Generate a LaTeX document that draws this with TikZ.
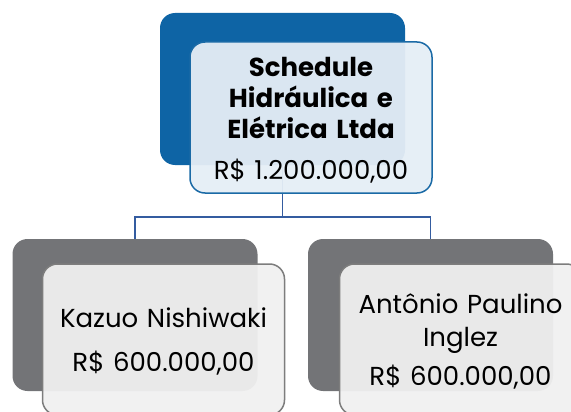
\documentclass[tikz,border=0pt]{standalone}
\usepackage{fontspec}
\setmainfont{Poppins}
\definecolor{schedblue}{RGB}{14,100,165}
\definecolor{cardblue}{RGB}{229,238,246}
\definecolor{edgeblue}{RGB}{26,106,166}
\definecolor{linkblue}{RGB}{52,92,160}
\definecolor{backgray}{RGB}{115,116,119}
\definecolor{cardgray}{RGB}{240,240,240}
\definecolor{edgegray}{RGB}{125,125,125}
\tikzset{
  backbox/.style={rounded corners=15pt,minimum width=245pt,minimum height=152pt,inner sep=0pt},
  card/.style={rounded corners=15pt,minimum width=242pt,minimum height=151pt,inner sep=0pt,
    line width=1.5pt,fill opacity=.95,text opacity=1,align=center,text width=240pt,
    font=\fontsize{26}{31}\selectfont,execute at begin node={\rule{0pt}{24pt}}},
  link/.style={draw=linkblue,line width=1.6pt}
}
\begin{document}
\begin{tikzpicture}[x=1pt,y=-1pt]
    \useasboundingbox (0,0) rectangle (571,412);
    % back panels
    \node[backbox,fill=schedblue] (schedback) at (282.5,89) {};
    \node[backbox,fill=backgray] (kazuoback) at (135,315) {};
    \node[backbox,fill=backgray] (antonioback) at (430.5,315) {};
    % links
    \draw[link] (schedback.south) -- ++(0,52) coordinate (split) -| (kazuoback.north);
    \draw[link] (split) -| (antonioback.north);
    % cards
    \node[card,draw=edgeblue,fill=cardblue] (sched) at (311,117.5) {\textbf{Schedule}\\\textbf{Hidráulica e}\\\textbf{Elétrica Ltda}\\[10pt]R\$ 1.200.000,00};
    \node[card,draw=edgegray,fill=cardgray] (kazuo) at (163.5,339.5) {Kazuo Nishiwaki\\[13pt]R\$ 600.000,00};
    \node[card,draw=edgegray,fill=cardgray] (antonio) at (460.5,339.5) {Antônio Paulino\\[2pt]Inglez\\[8pt]R\$ 600.000,00};
\end{tikzpicture}
\end{document}
